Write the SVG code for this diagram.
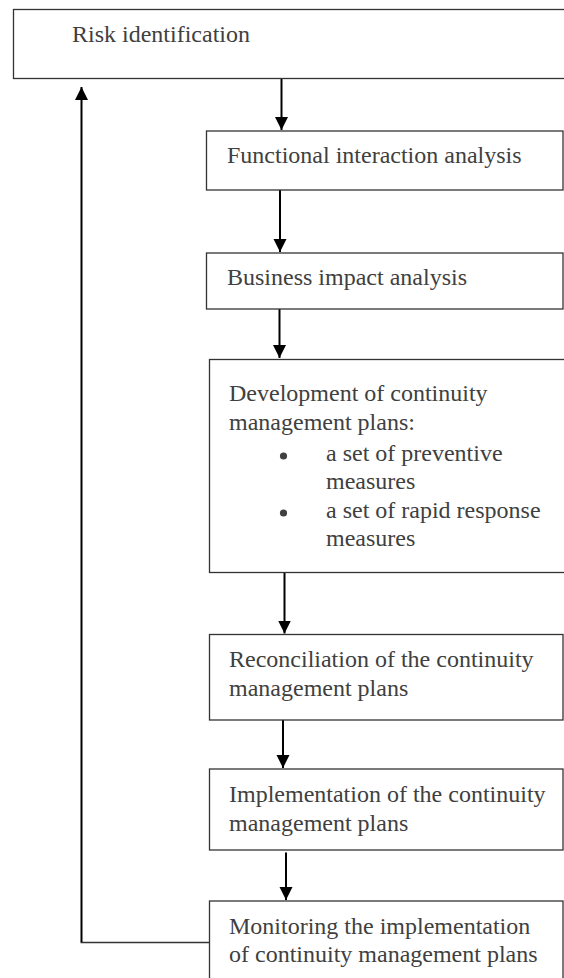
<svg xmlns="http://www.w3.org/2000/svg" width="564" height="978" viewBox="0 0 564 978">
  <style>
    .box { fill: #ffffff; stroke: #333333; stroke-width: 1.3; }
    .lbl { font-size: 24px; fill: #404040; }
    .arrow { stroke: #000000; stroke-width: 2; fill: none; }
    .thin { stroke: #333333; stroke-width: 1.3; fill: none; }
    .dot { fill: #404040; }
  </style>
  <defs>
    <marker id="ah" markerUnits="userSpaceOnUse" markerWidth="14" markerHeight="14" refX="13" refY="6.5" orient="auto">
      <path d="M0,0 L13,6.5 L0,13 Z" fill="#000000"/>
    </marker>
  </defs>

  <g id="connectors">
    <line class="arrow" x1="281.5" y1="79" x2="281.5" y2="130" marker-end="url(#ah)"/>
    <line class="arrow" x1="280" y1="190" x2="280" y2="252" marker-end="url(#ah)"/>
    <line class="arrow" x1="279.5" y1="309" x2="279.5" y2="358" marker-end="url(#ah)"/>
    <line class="arrow" x1="284.5" y1="573" x2="284.5" y2="633.5" marker-end="url(#ah)"/>
    <line class="arrow" x1="283" y1="720" x2="283" y2="768" marker-end="url(#ah)"/>
    <line class="arrow" x1="286" y1="852.5" x2="286" y2="900" marker-end="url(#ah)"/>
    <line class="thin" x1="80.5" y1="942.5" x2="209" y2="942.5"/>
    <line class="arrow" x1="81.5" y1="942" x2="81.5" y2="87" stroke-width="2.3" marker-end="url(#ah)"/>
  </g>

  <g font-family="'Liberation Serif', 'Times New Roman', 'DejaVu Serif', serif">
  <g id="risk">
    <rect class="box" x="13.5" y="9.5" width="560" height="69"/>
    <text class="lbl" x="72" y="42">Risk identification</text>
  </g>

  <g id="functional">
    <rect class="box" x="206.5" y="131" width="356.5" height="59"/>
    <text class="lbl" x="227" y="163">Functional interaction analysis</text>
  </g>

  <g id="business">
    <rect class="box" x="206.5" y="253" width="356.5" height="56"/>
    <text class="lbl" x="227" y="285">Business impact analysis</text>
  </g>

  <g id="development">
    <rect class="box" x="209.5" y="359.5" width="360" height="213"/>
    <text class="lbl" x="229" y="401">Development of continuity</text>
    <text class="lbl" x="229" y="430">management plans:</text>
    <circle class="dot" cx="283.5" cy="456" r="3.6"/>
    <text class="lbl" x="326" y="461">a set of preventive</text>
    <text class="lbl" x="326" y="489">measures</text>
    <circle class="dot" cx="283.5" cy="513" r="3.6"/>
    <text class="lbl" x="326" y="518">a set of rapid response</text>
    <text class="lbl" x="326" y="546">measures</text>
  </g>

  <g id="reconciliation">
    <rect class="box" x="209.5" y="634.5" width="353.5" height="85.5"/>
    <text class="lbl" x="229" y="667">Reconciliation of the continuity</text>
    <text class="lbl" x="229" y="696">management plans</text>
  </g>

  <g id="implementation">
    <rect class="box" x="209.5" y="769" width="353.5" height="81"/>
    <text class="lbl" x="229" y="802">Implementation of the continuity</text>
    <text class="lbl" x="229" y="831">management plans</text>
  </g>

  <g id="monitoring">
    <rect class="box" x="209.5" y="901" width="353.5" height="90"/>
    <text class="lbl" x="229" y="934">Monitoring the implementation</text>
    <text class="lbl" x="229" y="962">of continuity management plans</text>
  </g>
  </g>
</svg>
